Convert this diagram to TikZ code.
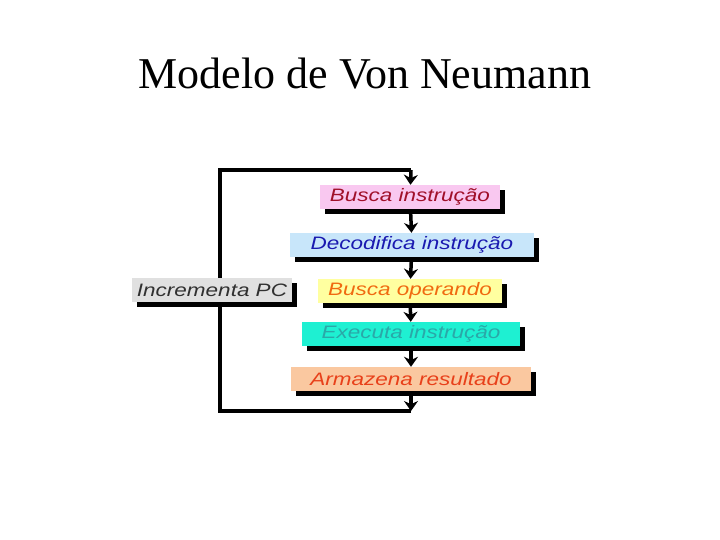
\documentclass[tikz,border=0pt]{standalone}
\usepackage{fontspec}
\setmainfont{Liberation Serif}
\newfontfamily\diagfont[FakeStretch=1.25]{Liberation Sans}
\usetikzlibrary{positioning,arrows.meta,shadows,backgrounds}
\definecolor{rosa}{HTML}{F9C8F0}
\definecolor{vinho}{HTML}{A0102A}
\definecolor{celeste}{HTML}{C8E6FA}
\definecolor{azulesc}{HTML}{1A1AB0}
\definecolor{amarelo}{HTML}{FFFFA0}
\definecolor{laranja}{HTML}{F06A10}
\definecolor{turquesa}{HTML}{1EF0D2}
\definecolor{verdeagua}{HTML}{2AA8A8}
\definecolor{salmao}{HTML}{FAC8A0}
\definecolor{vermelho}{HTML}{E8401A}
\definecolor{cinza}{HTML}{E0E0E0}
\definecolor{grafite}{HTML}{303030}
\tikzset{
  etapa/.style={minimum height=24bp, inner sep=0pt,
    font=\diagfont\itshape\fontsize{18bp}{20bp}\selectfont,
    drop shadow={shadow xshift=5bp, shadow yshift=-5bp, fill=black, opacity=1}},
  fluxo/.style={line width=3.5bp, -{Stealth[length=10bp,width=14bp]}},
  linha/.style={line width=3.5bp}
}

\begin{document}
\begin{tikzpicture}[x=1bp, y=-1bp]
    \useasboundingbox (0,0) rectangle (720,540);
    % titulo
    \node[anchor=base, font=\fontsize{44bp}{48bp}\selectfont] (titulo) at (365,89) {Modelo de Von Neumann};
    % etapas do ciclo
    \node[etapa, fill=rosa, text=vinho, minimum width=180bp] (busca) at (410,197) {Busca instrução};
    \node[etapa, fill=celeste, text=azulesc, minimum width=244bp] (decod) at (412,245) {Decodifica instrução};
    \node[etapa, fill=amarelo, text=laranja, minimum width=184bp] (operando) at (410,291) {Busca operando};
    \node[etapa, fill=turquesa, text=verdeagua, minimum width=218bp] (executa) at (411,334) {Executa instrução};
    \node[etapa, fill=salmao, text=vermelho, minimum width=240bp] (armazena) at (411,379) {Armazena resultado};
    \node[etapa, fill=cinza, text=grafite, minimum width=160bp] (incpc) at (212,290) {Incrementa PC};
    % laco de retorno
    \coordinate (cantoinf) at (220,411);
    \coordinate (cantosup) at (220,170);
    \coordinate (topo) at (411,170);
    \coordinate (fim) at (411,411);
    \begin{scope}[on background layer]
      \draw[linha] (fim) -- (cantoinf) -- (cantosup) -- (topo);
    \end{scope}
    \draw[fluxo] (topo) -- (busca);
    \draw[fluxo] (busca) -- (decod);
    \draw[fluxo] (decod) -- (operando);
    \draw[fluxo] (operando) -- (executa);
    \draw[fluxo] (executa) -- (armazena);
    \draw[fluxo] (armazena) -- (fim);
  \end{tikzpicture}
\end{document}
